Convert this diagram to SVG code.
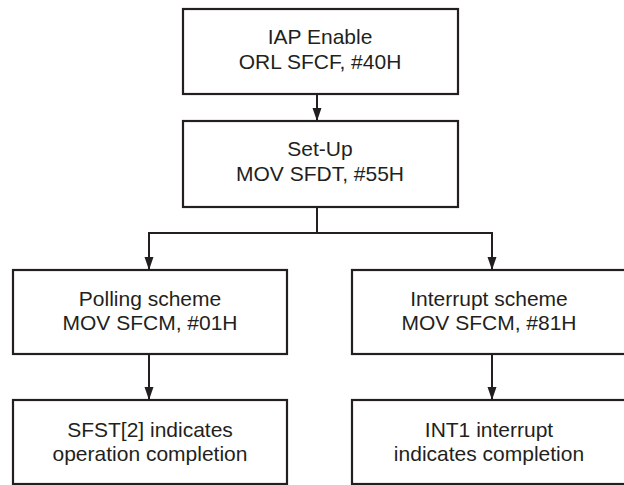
<svg xmlns="http://www.w3.org/2000/svg" width="624" height="485" viewBox="0 0 624 485">
<style>
.box{fill:#fff;stroke:#231f20;stroke-width:2.2}
.t{font-family:"Liberation Sans",Arial,sans-serif;font-size:21px;fill:#231f20;text-anchor:middle}
.c{fill:none;stroke:#231f20;stroke-width:2}
</style>
<defs>
<marker id="ah" markerUnits="userSpaceOnUse" markerWidth="13" markerHeight="10" refX="13" refY="5" orient="auto">
<path d="M0,0.5 L13,5 L0,9.5 z" fill="#231f20"/>
</marker>
</defs>
<rect width="624" height="485" fill="#fff"/>
<g id="connectors">
<line class="c" x1="317" y1="94" x2="317" y2="121" marker-end="url(#ah)"/>
<polyline class="c" points="317,207 317,233"/>
<polyline class="c" points="149,270 149,233 492,233 492,270" marker-start="none"/>
<line class="c" x1="149" y1="233" x2="149" y2="270" marker-end="url(#ah)"/>
<line class="c" x1="492" y1="233" x2="492" y2="270" marker-end="url(#ah)"/>
<line class="c" x1="149" y1="354" x2="149" y2="400" marker-end="url(#ah)"/>
<line class="c" x1="492" y1="354" x2="492" y2="400" marker-end="url(#ah)"/>
</g>
<g id="iap">
<rect class="box" x="183" y="9" width="275" height="85"/>
<text class="t" x="320" y="43.5">IAP Enable</text>
<text class="t" x="320" y="68.5">ORL SFCF, #40H</text>
</g>
<g id="setup">
<rect class="box" x="183" y="121" width="275" height="86"/>
<text class="t" x="320" y="156">Set-Up</text>
<text class="t" x="320" y="181">MOV SFDT, #55H</text>
</g>
<g id="polling">
<rect class="box" x="13" y="270" width="274" height="84"/>
<text class="t" x="150" y="306">Polling scheme</text>
<text class="t" x="150" y="330">MOV SFCM, #01H</text>
</g>
<g id="interrupt">
<rect class="box" x="352" y="270" width="275" height="84"/>
<text class="t" x="489" y="306">Interrupt scheme</text>
<text class="t" x="489" y="330">MOV SFCM, #81H</text>
</g>
<g id="sfst">
<rect class="box" x="13" y="400" width="274" height="84"/>
<text class="t" x="150" y="437">SFST[2] indicates</text>
<text class="t" x="150" y="461">operation completion</text>
</g>
<g id="int1">
<rect class="box" x="352" y="400" width="275" height="84"/>
<text class="t" x="489" y="437">INT1 interrupt</text>
<text class="t" x="489" y="461">indicates completion</text>
</g>
</svg>
